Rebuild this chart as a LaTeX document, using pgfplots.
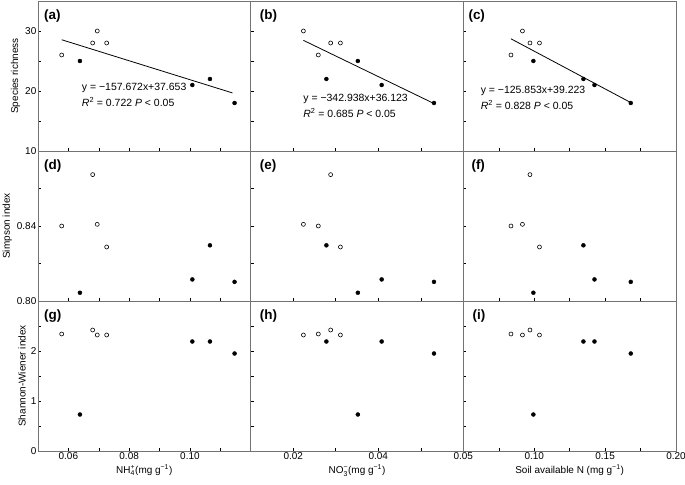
\documentclass[border=0pt]{standalone}
\usepackage{fontspec}
\setmainfont{Liberation Sans}
\usepackage{amsmath}
\usepackage{pgfplots}
\usepackage{pgfplotstable}
\pgfplotsset{compat=1.18}
\definecolor{framec}{gray}{0.45}

% open circles
\pgfplotstableread{
nh4 no3 sn rich simp shan
0.0578 0.0259 0.0836 26 0.8400 2.34
0.0680 0.0288 0.0970 28 0.8674 2.42
0.0695 0.0224 0.0917 30 0.8409 2.32
0.0726 0.0311 0.1037 28 0.8288 2.32
}\opendata
% filled circles
\pgfplotstableread{
nh4 no3 sn rich simp shan
0.0638 0.0352 0.0994 25 0.8044 0.73
0.1008 0.0408 0.1425 21 0.8115 2.19
0.1066 0.0278 0.1347 22 0.8297 2.19
0.1147 0.0531 0.1681 18 0.8102 1.95
}\filleddata

\tikzset{
 plab/.style={anchor=north west, inner sep=0, font=\bfseries\fontsize{13.5}{14}\selectfont},
 eq/.style={anchor=west, inner sep=0, font=\fontsize{10.5}{12}\selectfont},
}
\pgfplotsset{
 panel/.style={scale only axis, width=212.67bp, height=150bp, anchor=south west,
   axis line style={framec, line width=0.7pt},
   every tick/.style={black, line width=0.5pt},
   tick align=inside, major tick length=3bp, minor tick length=3bp,
   xtick pos=bottom, ytick pos=left,
   scaled ticks=false,
   /pgf/number format/assume math mode=true,
   tick label style={font=\fontsize{10}{12}\selectfont},
   xticklabel style={inner sep=1.5bp},
   yticklabel style={inner sep=1.5bp},
   label style={font=\fontsize{10}{12}\selectfont},
   clip=false},
 twodec/.style={/pgf/number format/.cd, fixed, zerofill, precision=2},
 colA/.style={xmin=0.05,xmax=0.12, xtick={0.06,0.08,0.10}, minor xtick={0.07,0.09,0.11}},
 colB/.style={xmin=0.01,xmax=0.06, xtick={0.02,0.04}, minor xtick={0.03,0.05}},
 colC/.style={xmin=0.05,xmax=0.20, xtick={0.05,0.10,0.15,0.20}, minor xtick={0.075,0.125,0.175}},
 rowR/.style={ymin=10,ymax=35, ytick={10,20,30}, minor ytick={15,25}},
 rowS/.style={ymin=0.80,ymax=0.88, ytick={0.80,0.84}, minor ytick={0.82,0.86}},
 rowH/.style={ymin=0,ymax=3, ytick={0,1,2}, minor ytick={0.5,1.5,2.5}},
 nox/.style={xticklabels={}},
 noy/.style={yticklabels={}},
 openm/.style={only marks, mark=*, mark size=2bp, mark options={draw=black, fill=white, line width=0.6pt}},
 fillm/.style={only marks, mark=*, mark size=2bp, mark options={draw=black, fill=black}},
}

\begin{document}
\begin{tikzpicture}
% ---------- Row 1: species richness ----------
\begin{axis}[panel, colA, rowR, nox, at={(38bp,334bp)}, ylabel={Species richness}]
\addplot[openm] table[x=nh4,y=rich]{\opendata};
\addplot[fillm] table[x=nh4,y=rich]{\filleddata};
\addplot[black, line width=0.8pt] coordinates {(0.0578,28.54) (0.1140,19.68)};
\node[eq] at (axis cs:0.0644,20.45) {y = −157.672x+37.653};
\node[eq] at (axis cs:0.0644,18.2) {\textit{R}\textsuperscript{2} = 0.722 \textit{P} < 0.05};
\node[plab, xshift=6bp, yshift=-9bp] at (rel axis cs:0,1) {(a)};
\end{axis}
\begin{axis}[panel, colB, rowR, nox, noy, at={(250.67bp,334bp)}]
\addplot[openm] table[x=no3,y=rich]{\opendata};
\addplot[fillm] table[x=no3,y=rich]{\filleddata};
\addplot[black, line width=0.8pt] coordinates {(0.0224,28.44) (0.0531,17.91)};
\node[eq] at (axis cs:0.02235,18.7) {y = −342.938x+36.123};
\node[eq] at (axis cs:0.02235,16.4) {\textit{R}\textsuperscript{2} = 0.685 \textit{P} < 0.05};
\node[plab, xshift=9bp, yshift=-9bp] at (rel axis cs:0,1) {(b)};
\end{axis}
\begin{axis}[panel, colC, rowR, nox, noy, at={(463.33bp,334bp)}]
\addplot[openm] table[x=sn,y=rich]{\opendata};
\addplot[fillm] table[x=sn,y=rich]{\filleddata};
\addplot[black, line width=0.8pt] coordinates {(0.0836,28.70) (0.1681,18.07)};
\node[eq] at (axis cs:0.0622,20.05) {y = −125.853x+39.223};
\node[eq] at (axis cs:0.0622,17.7) {\textit{R}\textsuperscript{2} = 0.828 \textit{P} < 0.05};
\node[plab, xshift=5bp, yshift=-9bp] at (rel axis cs:0,1) {(c)};
\end{axis}
% ---------- Row 2: Simpson ----------
\begin{axis}[panel, colA, rowS, nox, at={(38bp,184bp)}, ylabel={Simpson index},
  yticklabel style={twodec}]
\addplot[openm] table[x=nh4,y=simp]{\opendata};
\addplot[fillm] table[x=nh4,y=simp]{\filleddata};
\node[plab, xshift=6bp, yshift=-9bp] at (rel axis cs:0,1) {(d)};
\end{axis}
\begin{axis}[panel, colB, rowS, nox, noy, at={(250.67bp,184bp)}]
\addplot[openm] table[x=no3,y=simp]{\opendata};
\addplot[fillm] table[x=no3,y=simp]{\filleddata};
\node[plab, xshift=9bp, yshift=-9bp] at (rel axis cs:0,1) {(e)};
\end{axis}
\begin{axis}[panel, colC, rowS, nox, noy, at={(463.33bp,184bp)}]
\addplot[openm] table[x=sn,y=simp]{\opendata};
\addplot[fillm] table[x=sn,y=simp]{\filleddata};
\node[plab, xshift=8bp, yshift=-9bp] at (rel axis cs:0,1) {(f)};
\end{axis}
% ---------- Row 3: Shannon ----------
\begin{axis}[panel, colA, rowH, at={(38bp,34bp)}, ylabel={Shannon-Wiener index},
  xticklabel style={twodec},
  xlabel={NH$_{\text{4}}^{\text{+}}$(mg g\textsuperscript{−1})}]
\addplot[openm] table[x=nh4,y=shan]{\opendata};
\addplot[fillm] table[x=nh4,y=shan]{\filleddata};
\node[plab, xshift=6bp, yshift=-9bp] at (rel axis cs:0,1) {(g)};
\end{axis}
\begin{axis}[panel, colB, rowH, noy, at={(250.67bp,34bp)},
  xticklabel style={twodec},
  xlabel={NO$_{\text{3}}^{\text{−}}$(mg g\textsuperscript{−1})}]
\addplot[openm] table[x=no3,y=shan]{\opendata};
\addplot[fillm] table[x=no3,y=shan]{\filleddata};
\node[plab, xshift=9bp, yshift=-9bp] at (rel axis cs:0,1) {(h)};
\end{axis}
\begin{axis}[panel, colC, rowH, noy, at={(463.33bp,34bp)},
  xticklabel style={twodec},
  xlabel={Soil available N (mg g\textsuperscript{−1})}]
\addplot[openm] table[x=sn,y=shan]{\opendata};
\addplot[fillm] table[x=sn,y=shan]{\filleddata};
\node[plab, xshift=9bp, yshift=-9bp] at (rel axis cs:0,1) {(i)};
\end{axis}
\pgfresetboundingbox
\path (0,0) rectangle (685bp,485bp);
\end{tikzpicture}
\end{document}
